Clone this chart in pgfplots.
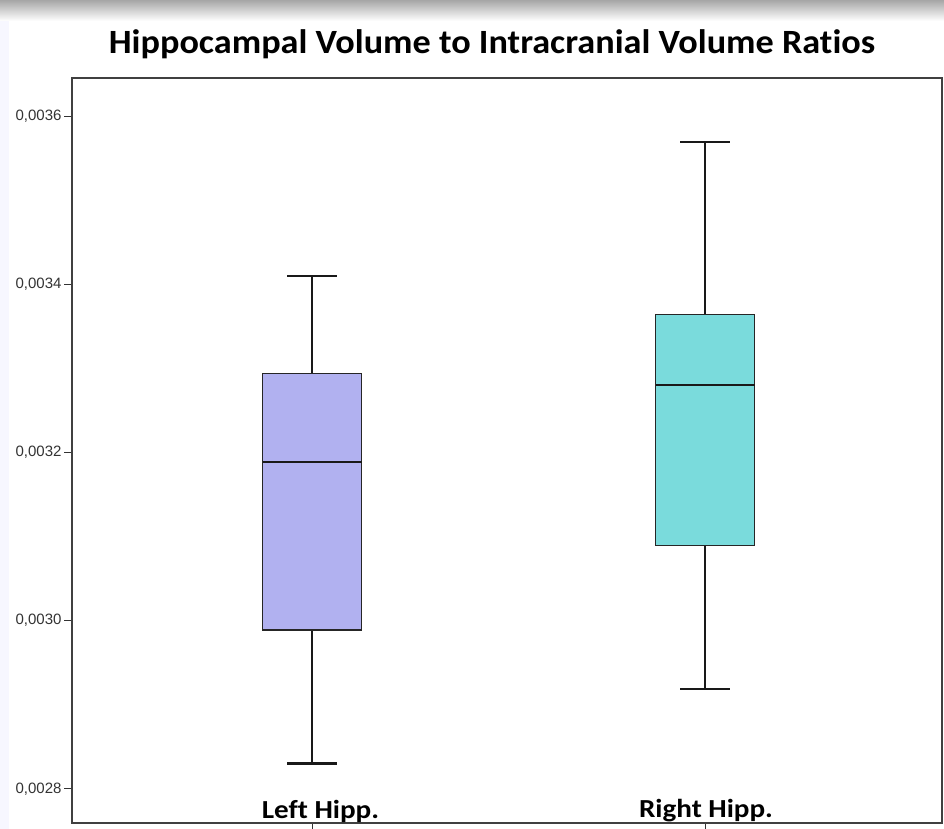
\documentclass[border=0pt]{standalone}
\usepackage{pgfplots}
\pgfplotsset{compat=1.18}
\usepackage{fontspec}
\setmainfont{Liberation Sans}
\newfontfamily\calibriT[FakeStretch=1.065,Ligatures=NoCommon]{Carlito}
\newfontfamily\calibriL[FakeStretch=1.12,Ligatures=NoCommon]{Carlito}
\definecolor{lav}{RGB}{177,177,240}
\definecolor{turq}{RGB}{122,219,220}
\begin{document}
\begin{tikzpicture}
\useasboundingbox (0pt,0pt) rectangle (944pt,829pt);
\fill[white] (0pt,0pt) rectangle (944pt,829pt);
\fill[blue!3] (0pt,0pt) rectangle (9pt,811pt);
\shade[top color=black!35, bottom color=white] (0pt,808pt) rectangle (944pt,829pt);
% y values in units of 1e-4 (ratio x 10000)
\begin{axis}[
  at={(72pt,6pt)}, anchor=south west,
  scale only axis, width=870pt, height=745pt,
  xmin=0.389, xmax=2.603,
  ymin=27.595, ymax=36.452,
  axis line style={black!75, line width=1.3pt},
  xtick={1,2}, xticklabels={},
  ytick={28,30,32,34,36},
  yticklabels={{0,0028},{0,0030},{0,0032},{0,0034},{0,0036}},
  yticklabel style={font=\fontsize{15}{17}\selectfont, text=black!80, xshift=1pt},
  tick align=outside, major tick length=8pt,
  tick style={black!80, line width=1pt},
  xtick pos=bottom, ytick pos=left,
  scaled y ticks=false,
]
% Left Hipp.: whiskers, box, median
\addplot[black!90, line width=2.4pt] coordinates {(1,32.94) (1,34.10)};
\addplot[black!90, line width=2.4pt] coordinates {(0.937,34.10) (1.063,34.10)};
\addplot[black!90, line width=2.4pt] coordinates {(1,29.89) (1,28.30)};
\addplot[black!90, line width=2.4pt] coordinates {(0.937,28.30) (1.063,28.30)};
\addplot[fill=lav, draw=black!85, line width=1.3pt] coordinates {(0.874,29.89) (1.126,29.89) (1.126,32.94) (0.874,32.94)} -- cycle;
\addplot[black!90, line width=2pt] coordinates {(0.874,31.89) (1.126,31.89)};
% Right Hipp.
\addplot[black!90, line width=2.4pt] coordinates {(2,33.64) (2,35.69)};
\addplot[black!90, line width=2.4pt] coordinates {(1.937,35.69) (2.063,35.69)};
\addplot[black!90, line width=2.4pt] coordinates {(2,30.89) (2,29.19)};
\addplot[black!90, line width=2.4pt] coordinates {(1.937,29.19) (2.063,29.19)};
\addplot[fill=turq, draw=black!85, line width=1.3pt] coordinates {(1.874,30.89) (2.126,30.89) (2.126,33.64) (1.874,33.64)} -- cycle;
\addplot[black!90, line width=2pt] coordinates {(1.874,32.80) (2.126,32.80)};
\end{axis}
\node[font=\calibriT\bfseries\fontsize{34}{38}\selectfont, anchor=base] at (492pt,775pt) {Hippocampal Volume to Intracranial Volume Ratios};
\node[font=\calibriL\bfseries\fontsize{26}{28}\selectfont, anchor=base] at (320.5pt,10pt) {Left Hipp.};
\node[font=\calibriL\bfseries\fontsize{26}{28}\selectfont, anchor=base] at (706pt,12pt) {Right Hipp.};
\end{tikzpicture}
\end{document}
